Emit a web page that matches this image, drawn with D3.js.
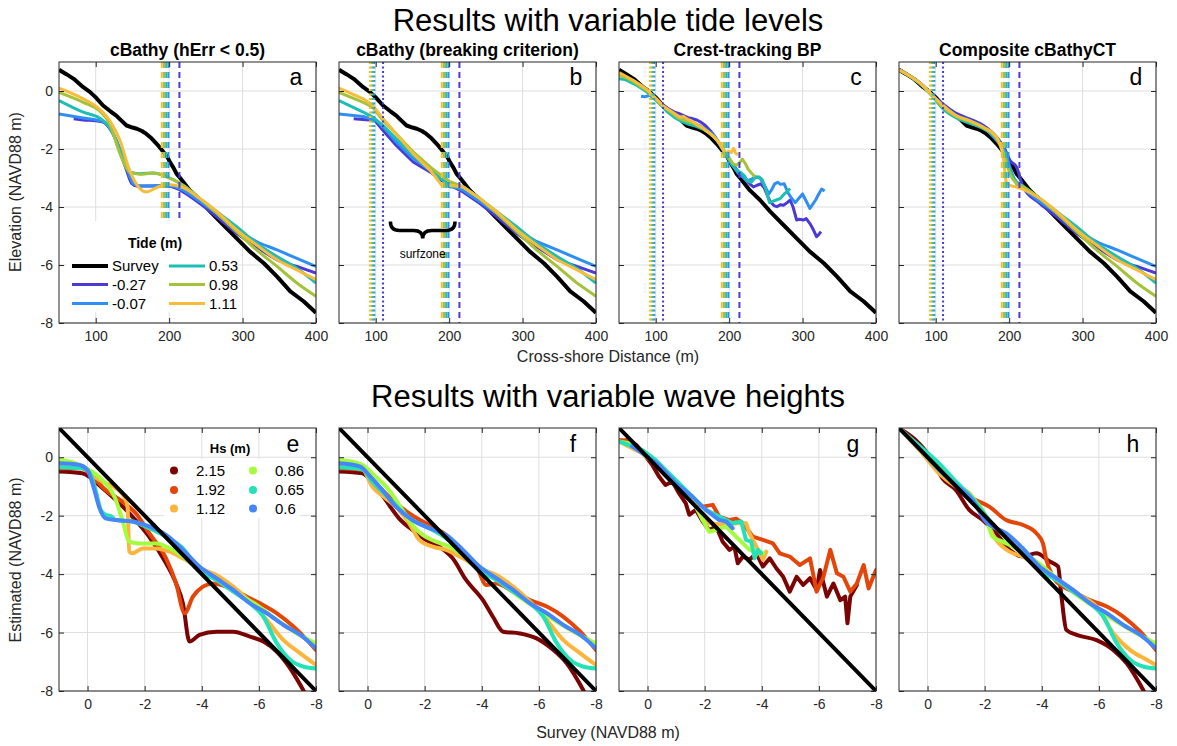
<!DOCTYPE html>
<html>
<head>
<meta charset="utf-8">
<script src="https://cdn.jsdelivr.net/npm/d3@7"></script>
<style>
  body { margin: 0; background: #fff; }
  svg { font-family: "Liberation Sans", Arial, Helvetica, sans-serif; }
</style>
</head>
<body>
<svg id="chart" width="1177" height="746"></svg>
<script>
// ---- labels / categories
const panelTitles = ["cBathy (hErr < 0.5)", "cBathy (breaking criterion)", "Crest-tracking BP", "Composite cBathyCT"];
const topLetters = ["a", "b", "c", "d"];
const botLetters = ["e", "f", "g", "h"];
const distTicks = [100, 200, 300, 400];
const elevTicks = [0, -2, -4, -6, -8];
const surveyTicks = [0, -2, -4, -6, -8];

const tideLevels = ["-0.27", "-0.07", "0.53", "0.98", "1.11"];
const tideColors = ["#4a3ad6", "#2f8ef3", "#1dbfb5", "#a4c23a", "#f7bd3a"];
const dottedLimit = [110, 98, 96, 94, 92];   // shoreward edge of surfzone (m)
const dashedLimit = [214, 199, 196, 193, 190]; // offshore edge of surfzone (m)

const hsLevels = ["2.15", "1.92", "1.12", "0.86", "0.65", "0.6"];
const hsColors = ["#7a0403", "#e4460a", "#fcb53a", "#a4fc3c", "#24e2b6", "#4686fb"];

// ---- survey profile (distance, elevation)
const surveyDist = [50, 60, 70, 83, 92, 100, 110, 120, 128, 135, 142, 150, 156, 163, 169, 176, 183, 189, 194, 198, 201, 206, 210, 215, 219, 228, 242, 256, 274, 292, 310, 329, 347, 365, 383, 400];
const surveyElev = [0.73, 0.58, 0.42, 0.13, -0.03, -0.22, -0.5, -0.7, -0.85, -1.02, -1.19, -1.26, -1.3, -1.38, -1.48, -1.63, -1.82, -2.0, -2.16, -2.3, -2.45, -2.65, -2.85, -3.0, -3.13, -3.42, -3.76, -4.16, -4.62, -5.08, -5.54, -5.94, -6.4, -6.91, -7.25, -7.65];

// ---- a: cBathy hErr < 0.5
const aPurple = [[70,-0.96],[83,-1.0],[100,-1.03],[110,-1.07],[118,-1.25],[128,-1.7],[136,-2.3],[142,-2.73],[149,-3.19],[156,-3.28],[174,-3.28],[197,-3.28],[210,-3.36],[219,-3.48],[242,-3.88],[265,-4.34],[292,-4.91],[319,-5.37],[347,-5.82],[374,-6.05],[400,-6.28]];
const aBlue = [[50,-0.79],[83,-0.93],[105,-1.02],[115,-1.13],[128,-1.7],[136,-2.2],[142,-2.62],[151,-3.19],[160,-3.28],[197,-3.25],[219,-3.42],[242,-3.82],[265,-4.22],[292,-4.79],[319,-5.19],[347,-5.48],[374,-5.77],[400,-6.05]];
const aTeal = [[50,-0.33],[83,-0.73],[105,-0.93],[119,-1.25],[133,-2.05],[146,-2.79],[160,-2.85],[178,-2.83],[197,-2.96],[219,-3.25],[242,-3.71],[265,-4.16],[292,-4.68],[319,-5.25],[347,-5.71],[374,-6.11],[400,-6.62]];
const aGreen = [[50,-0.05],[83,-0.39],[105,-0.68],[119,-1.13],[133,-2.16],[146,-2.79],[160,-2.87],[178,-2.83],[197,-2.96],[219,-3.25],[242,-3.71],[265,-4.22],[292,-4.85],[319,-5.48],[347,-6.05],[374,-6.62],[400,-7.08]];
const aYellow = [[50,0.1],[83,-0.27],[105,-0.62],[119,-1.02],[133,-1.7],[146,-2.73],[160,-3.36],[169,-3.48],[183,-3.33],[197,-3.22],[219,-3.33],[242,-3.71],[265,-4.16],[292,-4.79],[319,-5.31],[347,-5.82],[374,-6.17],[400,-6.51]];

// ---- b: cBathy breaking criterion
const bPurple = [[70,-0.96],[99,-1.02],[110,-1.36],[128,-1.88],[151,-2.45],[174,-2.79],[192,-3.13],[201,-3.25],[219,-3.48],[242,-3.88],[265,-4.34],[292,-4.91],[319,-5.37],[347,-5.82],[374,-6.05],[400,-6.28]];
const bBlue = [[50,-0.79],[83,-0.88],[101,-1.02],[115,-1.36],[128,-1.76],[151,-2.33],[174,-2.73],[192,-3.08],[201,-3.25],[219,-3.42],[242,-3.82],[265,-4.22],[292,-4.79],[319,-5.19],[347,-5.48],[374,-5.77],[400,-6.05]];
const bTeal = [[50,-0.33],[83,-0.73],[96,-0.9],[110,-1.19],[128,-1.65],[151,-2.22],[174,-2.73],[192,-3.08],[201,-3.31],[219,-3.3],[242,-3.71],[265,-4.16],[292,-4.68],[319,-5.25],[347,-5.71],[374,-6.11],[400,-6.62]];
const bGreen = [[50,-0.05],[83,-0.39],[96,-0.56],[110,-1.02],[128,-1.48],[151,-2.1],[174,-2.62],[192,-2.96],[201,-3.13],[219,-3.3],[242,-3.71],[265,-4.22],[292,-4.85],[319,-5.48],[347,-6.05],[374,-6.62],[400,-7.08]];
const bYellow = [[50,0.1],[83,-0.27],[96,-0.5],[110,-0.96],[128,-1.48],[151,-2.16],[174,-2.73],[190,-3.25],[201,-3.25],[219,-3.31],[242,-3.71],[265,-4.16],[292,-4.79],[319,-5.31],[347,-5.82],[374,-6.17],[400,-6.51]];

// ---- c: crest-tracking BP
const cPurple = [[95,-0.2],[105,-0.4],[115,-0.58],[125,-0.72],[132,-0.78],[138,-0.85],[144,-0.92],[150,-0.95],[156,-1.0],[162,-1.08],[168,-1.2],[174,-1.36],[180,-1.55],[186,-1.8],[192,-2.05],[198,-2.3],[204,-2.5],[210,-2.7],[216,-2.9],[222,-3.05],[228,-3.2],[233,-3.31],[238,-3.25],[243,-3.2],[248,-3.35],[252,-3.6],[256,-3.82],[261,-3.95],[265,-3.99],[270,-3.92],[274,-3.94],[279,-3.85],[283,-3.76],[287,-4.0],[292,-4.45],[296,-4.42],[301,-4.45],[305,-4.4],[310,-4.57],[314,-4.75],[319,-5.02],[322,-4.95],[325,-4.85]];
const cBlue = [[80,-0.18],[85,-0.2],[92,-0.15],[100,-0.3],[110,-0.55],[120,-0.75],[130,-0.9],[140,-1.0],[150,-1.08],[160,-1.2],[170,-1.35],[180,-1.55],[188,-1.85],[194,-2.1],[200,-2.35],[206,-2.6],[212,-2.82],[218,-2.95],[224,-3.1],[230,-3.05],[236,-2.95],[242,-3.0],[248,-3.25],[254,-3.55],[258,-3.4],[262,-3.2],[266,-3.15],[270,-3.22],[275,-3.2],[280,-3.5],[285,-3.7],[290,-3.85],[295,-3.7],[300,-3.55],[305,-3.8],[310,-4.05],[314,-3.9],[318,-3.75],[322,-3.55],[326,-3.38],[330,-3.45]];
const cTeal = [[50,0.42],[58,0.4],[66,0.3],[75,0.18],[85,0.02],[95,-0.18],[105,-0.42],[115,-0.7],[125,-0.9],[135,-1.05],[145,-1.15],[155,-1.22],[165,-1.32],[175,-1.48],[185,-1.75],[192,-2.05],[198,-2.3],[204,-2.55],[210,-2.72],[215,-2.8],[220,-2.9],[225,-3.1],[230,-3.15],[235,-3.0],[240,-2.96],[245,-3.05],[250,-3.4],[255,-3.85],[260,-3.8],[265,-3.75],[270,-3.7],[275,-3.55],[280,-3.45],[283,-3.36]];
const cGreen = [[50,0.55],[60,0.45],[70,0.32],[80,0.15],[90,-0.02],[100,-0.28],[110,-0.52],[120,-0.72],[130,-0.92],[140,-1.02],[150,-1.1],[160,-1.22],[170,-1.38],[180,-1.6],[188,-1.85],[194,-2.1],[200,-2.3],[205,-2.5],[210,-2.56],[214,-2.48],[218,-2.35],[222,-2.5],[226,-2.7],[230,-2.82],[235,-2.96]];
const cYellow = [[50,0.64],[60,0.5],[70,0.36],[80,0.2],[88,0.05],[96,-0.15],[104,-0.35],[112,-0.55],[120,-0.68],[127,-0.8],[133,-0.9],[138,-0.88],[143,-0.97],[148,-1.02],[153,-1.1],[158,-1.2],[163,-1.25],[168,-1.36],[173,-1.45],[178,-1.55],[183,-1.68],[188,-1.85],[192,-2.02],[196,-2.2],[199,-2.08],[203,-2.12],[206,-1.98],[209,-2.15],[212,-2.2]];

// ---- d: composite cBathyCT
const dPurple = [[50,0.73],[83,0.18],[96,-0.16],[110,-0.45],[128,-0.77],[146,-0.96],[165,-1.19],[183,-1.59],[194,-1.99],[201,-2.39],[210,-2.62],[219,-3.31],[242,-3.88],[265,-4.34],[292,-4.91],[319,-5.37],[347,-5.82],[374,-6.05],[400,-6.28]];
const dBlue = [[50,0.73],[83,0.18],[96,-0.16],[110,-0.5],[128,-0.85],[146,-1.02],[165,-1.25],[183,-1.71],[194,-2.05],[201,-2.62],[210,-3.19],[219,-3.36],[242,-3.82],[265,-4.22],[292,-4.79],[319,-5.19],[347,-5.48],[374,-5.77],[400,-6.05]];
const dTeal = [[50,0.73],[83,0.15],[96,-0.2],[110,-0.62],[128,-0.93],[146,-1.11],[165,-1.3],[183,-1.65],[194,-2.16],[201,-2.73],[210,-3.13],[219,-3.28],[242,-3.71],[265,-4.16],[292,-4.68],[319,-5.25],[347,-5.71],[374,-6.11],[400,-6.62]];
const dGreen = [[50,0.73],[83,0.16],[96,-0.18],[110,-0.56],[128,-0.88],[146,-1.05],[165,-1.27],[183,-1.65],[194,-2.28],[201,-2.85],[210,-3.19],[219,-3.3],[242,-3.71],[265,-4.22],[292,-4.85],[319,-5.48],[347,-6.05],[374,-6.62],[400,-7.08]];
const dYellow = [[50,0.73],[83,0.18],[96,-0.16],[110,-0.5],[128,-0.85],[146,-1.02],[165,-1.25],[183,-1.59],[192,-2.28],[196,-3.13],[201,-3.25],[210,-3.31],[219,-3.39],[242,-3.71],[265,-4.16],[292,-4.79],[319,-5.31],[347,-5.82],[374,-6.17],[400,-6.51]];

// ---- e: cBathy hErr, survey vs estimated
const eRed = [[1,-0.49],[0.19,-0.55],[-0.05,-0.66],[-0.4,-0.95],[-0.99,-1.46],[-1.57,-2.03],[-2.16,-2.72],[-2.75,-3.63],[-3.1,-4.32],[-3.34,-5.0],[-3.57,-6.31],[-3.92,-6.08],[-4.51,-5.97],[-5.1,-5.97],[-5.69,-6.14],[-6.16,-6.31],[-6.63,-6.66],[-7.1,-7.23],[-7.6,-8.05]];
const eOrange = [[1,-0.38],[0.19,-0.38],[-0.16,-0.66],[-0.63,-1.12],[-1.22,-1.52],[-1.69,-1.92],[-2.16,-2.6],[-2.75,-3.46],[-3.1,-4.32],[-3.4,-5.34],[-3.69,-4.77],[-4.04,-4.43],[-4.39,-4.32],[-4.86,-4.43],[-5.45,-4.71],[-6.04,-5.0],[-6.63,-5.34],[-7.22,-5.8],[-7.69,-6.26],[-8,-6.6]];
const eYellow = [[1,-0.26],[0.19,-0.32],[-0.16,-0.61],[-0.63,-0.89],[-0.99,-1.06],[-1.28,-1.35],[-1.4,-1.69],[-1.46,-3.23],[-1.57,-3.29],[-1.93,-3.12],[-2.4,-3.12],[-2.87,-3.23],[-3.34,-3.46],[-3.92,-3.8],[-4.51,-4.03],[-5.1,-4.43],[-5.69,-4.94],[-6.28,-5.57],[-6.86,-6.26],[-7.45,-6.71],[-8,-7.11]];
const eGreen = [[1,-0.09],[0.42,-0.21],[-0.05,-0.43],[-0.52,-0.78],[-0.99,-1.46],[-1.22,-2.15],[-1.46,-2.89],[-1.81,-2.95],[-2.4,-2.95],[-2.98,-3.17],[-3.57,-3.57],[-4.16,-3.97],[-4.75,-4.32],[-5.33,-4.71],[-5.92,-5.05],[-6.63,-5.57],[-7.33,-6.03],[-8,-6.37]];
const eTeal = [[1,-0.34],[0.19,-0.38],[-0.05,-0.49],[-0.28,-1.12],[-0.46,-1.8],[-0.63,-1.97],[-0.81,-2.01],[-0.99,-2.15],[-1.57,-2.2],[-2.16,-2.43],[-2.75,-2.72],[-3.34,-3.12],[-3.92,-3.86],[-4.51,-4.2],[-5.1,-4.6],[-5.69,-5.0],[-6.16,-5.46],[-6.63,-6.37],[-7.1,-6.94],[-7.57,-7.17],[-8,-7.23]];
const eBlue = [[1,-0.21],[0.31,-0.26],[0.01,-0.43],[-0.22,-1.06],[-0.4,-1.69],[-0.63,-2.09],[-0.99,-2.15],[-1.57,-2.2],[-2.16,-2.37],[-2.75,-2.66],[-3.34,-3.17],[-3.92,-3.74],[-4.51,-4.14],[-5.1,-4.54],[-5.69,-5.0],[-6.28,-5.34],[-6.86,-5.74],[-7.45,-6.08],[-8,-6.54]];

// ---- f: breaking criterion
const fRed = [[1,-0.49],[0.19,-0.55],[-0.16,-0.83],[-0.63,-1.46],[-1.1,-2.09],[-1.57,-2.49],[-2.04,-2.83],[-2.51,-3.06],[-2.98,-3.46],[-3.45,-4.2],[-4.04,-4.89],[-4.39,-5.46],[-4.75,-5.97],[-5.33,-6.03],[-5.92,-6.2],[-6.51,-6.6],[-6.98,-7.06],[-7.6,-8.05]];
const fOrange = [[1,-0.38],[0.19,-0.43],[-0.28,-0.89],[-0.87,-1.46],[-1.46,-1.92],[-2.16,-2.32],[-2.75,-2.66],[-3.34,-3.29],[-3.81,-3.74],[-4.16,-4.37],[-4.51,-4.32],[-5.1,-4.6],[-5.69,-4.89],[-6.28,-5.11],[-6.86,-5.46],[-7.45,-5.97],[-8,-6.6]];
const fYellow = [[1,-0.26],[0.19,-0.38],[-0.16,-1.0],[-0.63,-1.4],[-1.1,-1.8],[-1.46,-2.26],[-1.81,-2.83],[-2.28,-3.06],[-2.75,-3.17],[-3.34,-3.46],[-3.92,-3.8],[-4.51,-4.03],[-5.1,-4.43],[-5.69,-4.94],[-6.28,-5.57],[-6.86,-6.26],[-7.45,-6.71],[-8,-7.11]];
const fGreen = [[1,-0.09],[0.19,-0.26],[-0.28,-0.66],[-0.75,-1.12],[-1.22,-1.8],[-1.52,-2.26],[-1.93,-2.66],[-2.4,-2.89],[-2.87,-3.06],[-3.34,-3.35],[-3.92,-3.74],[-4.51,-4.14],[-5.22,-4.71],[-5.92,-5.17],[-6.63,-5.63],[-7.33,-6.03],[-8,-6.37]];
const fTeal = [[1,-0.34],[0.19,-0.41],[-0.16,-0.83],[-0.63,-1.29],[-1.1,-1.75],[-1.57,-2.15],[-2.16,-2.43],[-2.75,-2.77],[-3.34,-3.29],[-3.92,-3.86],[-4.51,-4.2],[-5.1,-4.6],[-5.69,-5.0],[-6.16,-5.46],[-6.63,-6.37],[-7.1,-6.94],[-7.57,-7.17],[-8,-7.23]];
const fBlue = [[1,-0.21],[0.25,-0.32],[-0.05,-0.61],[-0.52,-1.12],[-0.99,-1.69],[-1.57,-2.15],[-2.16,-2.43],[-2.75,-2.66],[-3.34,-3.17],[-3.92,-3.74],[-4.51,-4.14],[-5.1,-4.54],[-5.69,-5.0],[-6.28,-5.34],[-6.86,-5.74],[-7.45,-6.08],[-8,-6.54]];

// ---- g: crest-tracking
const gRed = [[1,0.54],[0.66,0.59],[0.4,0.42],[0.19,0.19],[-0.16,-0.26],[-0.4,-0.66],[-0.63,-0.95],[-0.87,-0.83],[-1.1,-1.23],[-1.34,-1.58],[-1.46,-1.97],[-1.69,-1.8],[-1.93,-2.2],[-2.16,-2.49],[-2.4,-2.37],[-2.63,-2.89],[-2.87,-3.17],[-3.04,-3.06],[-3.16,-3.63],[-3.34,-3.4],[-3.57,-3.51],[-3.81,-3.29],[-4.04,-3.74],[-4.28,-3.46],[-4.51,-3.8],[-4.75,-4.09],[-4.98,-4.6],[-5.22,-4.09],[-5.45,-4.37],[-5.69,-4.14],[-5.92,-4.54],[-6.04,-3.86],[-6.28,-4.77],[-6.51,-4.32],[-6.75,-4.89],[-6.92,-4.77],[-7.0,-5.68],[-7.1,-4.77],[-7.33,-4.37]];
const gOrange = [[1,0.59],[0.6,0.55],[0.19,0.14],[-0.4,-0.38],[-0.99,-1.0],[-1.57,-1.46],[-1.93,-1.69],[-2.28,-1.63],[-2.51,-2.03],[-2.87,-2.15],[-3.1,-2.1],[-3.34,-2.26],[-3.69,-2.72],[-4.04,-2.83],[-4.39,-2.95],[-4.63,-3.29],[-4.98,-3.4],[-5.33,-3.69],[-5.69,-3.46],[-5.92,-4.6],[-6.16,-4.09],[-6.4,-3.17],[-6.63,-3.97],[-6.86,-4.09],[-7.1,-4.6],[-7.33,-4.32],[-7.57,-3.69],[-7.74,-4.49],[-8,-3.86]];
const gYellow = [[1,0.54],[0.19,0.14],[-0.4,-0.32],[-0.99,-0.95],[-1.57,-1.35],[-1.93,-2.15],[-2.16,-2.26],[-2.75,-2.32],[-3.1,-2.26],[-3.45,-2.26],[-3.57,-2.6],[-3.81,-3.06],[-4.04,-3.51],[-4.16,-3.23]];
const gGreen = [[1,0.54],[0.66,0.48],[0.19,0.19],[-0.4,-0.26],[-0.99,-0.83],[-1.57,-1.46],[-1.93,-2.15],[-2.16,-2.55],[-2.4,-2.49],[-2.75,-2.37],[-3.1,-2.72],[-3.57,-3.17],[-3.92,-3.23],[-4.04,-3.29]];
const gTeal = [[1,0.54],[0.54,0.37],[0.19,0.25],[-0.28,-0.09],[-0.75,-0.55],[-1.1,-0.89],[-1.57,-1.35],[-2.04,-1.8],[-2.51,-2.03],[-2.98,-2.26],[-3.28,-2.2],[-3.45,-2.83],[-3.63,-2.89],[-3.75,-3.46],[-3.87,-3.17],[-3.98,-3.29]];
const gBlue = [[0.54,0.37],[0.19,0.14],[-0.4,-0.26],[-0.99,-0.89],[-1.57,-1.35],[-2.04,-1.8],[-2.51,-2.15],[-2.75,-2.2],[-2.98,-2.43]];

// ---- h: composite
const hRed = [[1,0.99],[0.42,0.59],[-0.16,-0.09],[-0.52,-0.72],[-0.99,-1.12],[-1.46,-1.8],[-1.93,-2.15],[-2.4,-2.6],[-2.87,-3.17],[-3.34,-3.4],[-3.81,-3.29],[-4.28,-3.57],[-4.57,-3.74],[-4.69,-4.77],[-4.86,-5.91],[-5.22,-6.08],[-5.92,-6.26],[-6.51,-6.6],[-6.98,-7.06],[-7.6,-8.05]];
const hOrange = [[1,0.99],[0.19,0.25],[-0.4,-0.38],[-0.99,-1.0],[-1.57,-1.4],[-2.16,-1.69],[-2.75,-2.15],[-3.34,-2.32],[-3.81,-2.6],[-4.04,-2.95],[-4.16,-3.51],[-4.39,-4.09],[-4.75,-4.43],[-5.1,-4.6],[-5.69,-4.89],[-6.28,-5.11],[-6.86,-5.46],[-7.45,-5.97],[-8,-6.6]];
const hYellow = [[1,0.99],[0.19,0.14],[-0.4,-0.55],[-0.99,-1.0],[-1.46,-1.23],[-1.93,-1.92],[-2.4,-2.83],[-2.87,-3.23],[-3.34,-3.4],[-3.92,-3.74],[-4.51,-4.14],[-5.22,-4.66],[-5.92,-5.11],[-6.51,-6.03],[-7.1,-6.6],[-7.69,-6.94],[-8,-7.11]];
const hGreen = [[1,0.99],[0.19,0.19],[-0.4,-0.43],[-0.99,-0.95],[-1.57,-1.4],[-2.04,-2.03],[-2.28,-2.72],[-2.63,-2.89],[-3.1,-3.12],[-3.57,-3.4],[-4.04,-3.74],[-4.51,-4.14],[-5.22,-4.71],[-5.92,-5.17],[-6.63,-5.63],[-7.33,-6.03],[-8,-6.37]];
const hTeal = [[1,0.99],[0.19,0.31],[-0.4,-0.21],[-0.99,-0.83],[-1.57,-1.4],[-2.16,-2.15],[-2.75,-2.77],[-3.34,-3.29],[-3.92,-3.86],[-4.51,-4.2],[-5.1,-4.6],[-5.69,-5.0],[-6.16,-5.46],[-6.63,-6.37],[-7.1,-6.94],[-7.57,-7.17],[-8,-7.23]];
const hBlue = [[1,0.99],[0.19,0.19],[-0.4,-0.43],[-0.99,-0.95],[-1.57,-1.46],[-2.04,-2.2],[-2.75,-2.6],[-3.34,-3.12],[-3.92,-3.74],[-4.51,-4.14],[-5.1,-4.54],[-5.69,-5.0],[-6.28,-5.34],[-6.86,-5.74],[-7.45,-6.08],[-8,-6.54]];

const oneToOne = [[1, 1], [-8, -8]];

const topCurves = [
  [aPurple, aBlue, aTeal, aGreen, aYellow],
  [bPurple, bBlue, bTeal, bGreen, bYellow],
  [cPurple, cBlue, cTeal, cGreen, cYellow],
  [dPurple, dBlue, dTeal, dGreen, dYellow]
];
const botCurves = [
  [eRed, eOrange, eYellow, eGreen, eTeal, eBlue],
  [fRed, fOrange, fYellow, fGreen, fTeal, fBlue],
  [gRed, gOrange, gYellow, gGreen, gTeal, gBlue],
  [hRed, hOrange, hYellow, hGreen, hTeal, hBlue]
];
const topCurveType = [d3.curveMonotoneX, d3.curveLinear, d3.curveLinear, d3.curveMonotoneX];
const botCurveType = [d3.curveMonotoneX, d3.curveMonotoneX, d3.curveLinear, d3.curveMonotoneX];

// ---- layout
const lefts = [59, 339, 619, 899];
const pw = 257;
const ink = "#262626";
const gridCol = "#dedede";
const tideBox = { x: 7, y: 159, w: 170, h: 91 };   // legend box inside panel a
const svg = d3.select("#chart");

function makePanel(col, row) {
  const top = row === 0 ? 62 : 428;
  const h = row === 0 ? 261 : 263;
  const g = svg.append("g").attr("transform", `translate(${lefts[col]},${top})`);
  const x = row === 0
    ? d3.scaleLinear().domain([50, 400]).range([0, pw])
    : d3.scaleLinear().domain([1, -8]).range([0, pw]);
  const y = d3.scaleLinear().domain([-8, 1]).range([h, 0]);
  const xt = row === 0 ? distTicks : surveyTicks;

  g.append("rect").attr("width", pw).attr("height", h).attr("fill", "#fff");
  g.append("g").selectAll("line").data(xt).join("line")
    .attr("x1", d => x(d)).attr("x2", d => x(d)).attr("y1", 0).attr("y2", h)
    .attr("stroke", gridCol);
  g.append("g").selectAll("line").data(elevTicks).join("line")
    .attr("y1", d => y(d)).attr("y2", d => y(d)).attr("x1", 0).attr("x2", pw)
    .attr("stroke", gridCol);

  const id = `clip${row}${col}`;
  g.append("clipPath").attr("id", id).append("rect").attr("width", pw).attr("height", h);
  const plot = g.append("g").attr("clip-path", `url(#${id})`);
  return { g, x, y, h, xt, plot };
}

function frame(p, showY) {
  const { g, x, y, h, xt } = p;
  const fmt = d => String(d);
  const blank = () => "";
  const axes = [
    g.append("g").attr("transform", `translate(0,${h})`)
      .call(d3.axisBottom(x).tickValues(xt).tickFormat(fmt).tickSizeInner(-5).tickSizeOuter(0).tickPadding(8)),
    g.append("g")
      .call(d3.axisTop(x).tickValues(xt).tickFormat(blank).tickSizeInner(-5).tickSizeOuter(0)),
    g.append("g")
      .call(d3.axisLeft(y).tickValues(elevTicks).tickFormat(showY ? fmt : blank).tickSizeInner(-5).tickSizeOuter(0).tickPadding(6)),
    g.append("g").attr("transform", `translate(${pw},0)`)
      .call(d3.axisRight(y).tickValues(elevTicks).tickFormat(blank).tickSizeInner(-5).tickSizeOuter(0))
  ];
  axes.forEach(a => {
    a.select(".domain").remove();
    a.attr("font-size", 14).attr("font-family", null);
    a.selectAll("line").attr("stroke", ink);
    a.selectAll("text").attr("fill", ink);
  });
  g.append("rect").attr("width", pw).attr("height", h)
    .attr("fill", "none").attr("stroke", ink).attr("stroke-width", 1);
}

// ---- top row: profiles vs cross-shore distance
const surveyPts = surveyDist.map((d, i) => [d, surveyElev[i]]);
const topPanels = [];
for (let c = 0; c < 4; c++) {
  const p = makePanel(c, 0);
  topPanels.push(p);
  const line = d3.line().x(d => p.x(d[0])).y(d => p.y(d[1]));

  // legend background sits under the curves but over the grid
  if (c === 0) {
    p.plot.append("rect").attr("x", tideBox.x).attr("y", tideBox.y)
      .attr("width", tideBox.w).attr("height", tideBox.h).attr("fill", "#fff");
  }

  p.plot.append("path").datum(surveyPts)
    .attr("d", line.curve(d3.curveLinear))
    .attr("fill", "none").attr("stroke", "#000").attr("stroke-width", 4)
    .attr("stroke-linejoin", "round");

  topCurves[c].forEach((pts, i) => {
    p.plot.append("path").datum(pts)
      .attr("d", line.curve(topCurveType[c]))
      .attr("fill", "none").attr("stroke", tideColors[i]).attr("stroke-width", 3)
      .attr("stroke-linejoin", "round");
  });

  // surfzone limits
  const yEnd = c === 0 ? tideBox.y : p.h;
  tideColors.forEach((col, i) => {
    if (c > 0) {
      p.plot.append("line")
        .attr("x1", p.x(dottedLimit[i])).attr("x2", p.x(dottedLimit[i]))
        .attr("y1", 0).attr("y2", p.h)
        .attr("stroke", col).attr("stroke-width", 2).attr("stroke-dasharray", "2,2.5");
    }
    p.plot.append("line")
      .attr("x1", p.x(dashedLimit[i])).attr("x2", p.x(dashedLimit[i]))
      .attr("y1", 0).attr("y2", yEnd)
      .attr("stroke", col).attr("stroke-width", 2).attr("stroke-dasharray", "6,4");
  });

  frame(p, c === 0);

  p.g.append("text").attr("x", pw / 2).attr("y", -6).attr("text-anchor", "middle")
    .attr("font-size", 17.5).attr("font-weight", "bold").attr("fill", "#000")
    .text(panelTitles[c]);
  p.g.append("text").attr("x", pw - 20).attr("y", 23).attr("text-anchor", "middle")
    .attr("font-size", 23).attr("fill", "#000").text(topLetters[c]);
}

// surfzone brace in panel b
{
  const p = topPanels[1];
  const bx0 = p.x(120), bx1 = p.x(208), by = p.y(-4.5);
  const mid = (bx0 + bx1) / 2;
  p.g.append("path")
    .attr("d", `M${bx0},${by} Q${bx0},${by + 9} ${bx0 + 9},${by + 9} L${mid - 9},${by + 9} Q${mid},${by + 9} ${mid},${by + 17} Q${mid},${by + 9} ${mid + 9},${by + 9} L${bx1 - 9},${by + 9} Q${bx1},${by + 9} ${bx1},${by}`)
    .attr("fill", "none").attr("stroke", "#000").attr("stroke-width", 3.5);
  p.g.append("text").attr("x", mid).attr("y", by + 36).attr("text-anchor", "middle")
    .attr("font-size", 12).attr("fill", "#000").text("surfzone");
}

// tide legend in panel a
{
  const g = topPanels[0].g;
  const lg = g.append("g");
  lg.append("text").attr("x", 96).attr("y", 186).attr("text-anchor", "middle")
    .attr("font-size", 14).attr("font-weight", "bold").attr("fill", "#000").text("Tide (m)");
  const items = [{ label: "Survey", color: "#000", w: 4 }]
    .concat(tideLevels.map((t, i) => ({ label: t, color: tideColors[i], w: 3 })));
  const rowsY = [204, 222.5, 241.5];
  items.forEach((it, i) => {
    const col = Math.floor(i / 3), row = i % 3;
    const x0 = 13 + col * 97;
    lg.append("line").attr("x1", x0).attr("x2", x0 + 36)
      .attr("y1", rowsY[row]).attr("y2", rowsY[row])
      .attr("stroke", it.color).attr("stroke-width", it.w);
    lg.append("text").attr("x", x0 + 40).attr("y", rowsY[row] + 5)
      .attr("font-size", 15).attr("fill", "#000").text(it.label);
  });
}

// ---- bottom row: estimated vs survey elevation
const botPanels = [];
for (let c = 0; c < 4; c++) {
  const p = makePanel(c, 1);
  botPanels.push(p);
  const line = d3.line().x(d => p.x(d[0])).y(d => p.y(d[1]));

  botCurves[c].forEach((pts, i) => {
    p.plot.append("path").datum(pts)
      .attr("d", line.curve(botCurveType[c]))
      .attr("fill", "none").attr("stroke", hsColors[i]).attr("stroke-width", 4)
      .attr("stroke-linejoin", "round").attr("stroke-linecap", "round");
  });
  p.plot.append("path").datum(oneToOne)
    .attr("d", line.curve(d3.curveLinear))
    .attr("fill", "none").attr("stroke", "#000").attr("stroke-width", 4)
    .attr("stroke-linecap", "round");

  frame(p, c === 0);
  p.g.append("text").attr("x", pw - 23).attr("y", 24).attr("text-anchor", "middle")
    .attr("font-size", 23).attr("fill", "#000").text(botLetters[c]);
}

// Hs legend in panel e
{
  const g = botPanels[0].g;
  const lg = g.append("g");
  lg.append("rect").attr("x", 105).attr("y", 31).attr("width", 136).attr("height", 59).attr("fill", "#fff");
  lg.append("text").attr("x", 171).attr("y", 25).attr("text-anchor", "middle")
    .attr("font-size", 13).attr("font-weight", "bold").attr("fill", "#000").text("Hs (m)");
  const rowsY = [42.5, 62, 80.5];
  hsLevels.forEach((t, i) => {
    const col = Math.floor(i / 3), row = i % 3;
    const x0 = 115 + col * 79;
    lg.append("circle").attr("cx", x0).attr("cy", rowsY[row]).attr("r", 4).attr("fill", hsColors[i]);
    lg.append("text").attr("x", x0 + 22).attr("y", rowsY[row] + 5)
      .attr("font-size", 15).attr("fill", "#000").text(t);
  });
}

// ---- titles and axis labels
svg.append("text").attr("x", 608).attr("y", 31).attr("text-anchor", "middle")
  .attr("font-size", 31).attr("fill", "#000").text("Results with variable tide levels");
svg.append("text").attr("x", 608).attr("y", 407).attr("text-anchor", "middle")
  .attr("font-size", 31).attr("fill", "#000").text("Results with variable wave heights");
svg.append("text").attr("x", 608).attr("y", 362).attr("text-anchor", "middle")
  .attr("font-size", 16).attr("fill", ink).text("Cross-shore Distance (m)");
svg.append("text").attr("x", 608).attr("y", 738).attr("text-anchor", "middle")
  .attr("font-size", 16).attr("fill", ink).text("Survey (NAVD88 m)");
svg.append("text").attr("transform", "translate(21,192) rotate(-90)").attr("text-anchor", "middle")
  .attr("font-size", 16).attr("fill", ink).text("Elevation (NAVD88 m)");
svg.append("text").attr("transform", "translate(21,560) rotate(-90)").attr("text-anchor", "middle")
  .attr("font-size", 16).attr("fill", ink).text("Estimated (NAVD88 m)");
</script>
</body>
</html>
